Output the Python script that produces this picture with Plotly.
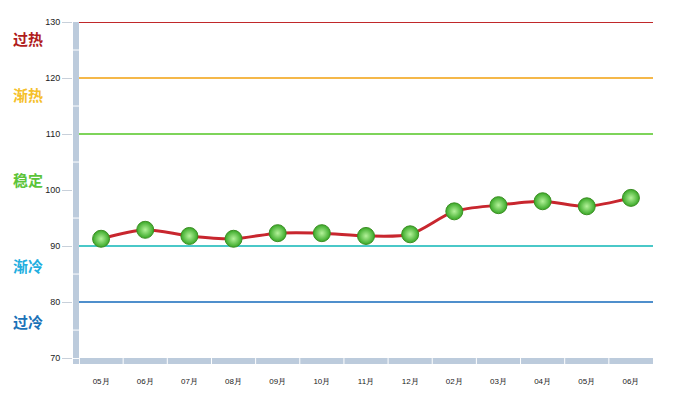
import plotly.graph_objects as go

months = ["05月", "06月", "07月", "08月", "09月", "10月", "11月", "12月",
          "02月", "03月", "04月", "05月", "06月"]
values = [91.3, 92.9, 91.8, 91.3, 92.3, 92.3, 91.8, 92.1, 96.2, 97.3, 98.0, 97.1, 98.6]

y_ticks = [70, 80, 90, 100, 110, 120, 130]
band_levels = [130, 120, 110, 90, 80]
band_colors = ["#c0282a", "#f5b84a", "#7ed45a", "#4ac8c8", "#4f8fcc"]
zone_names = ["过热", "渐热", "稳定", "渐冷", "过冷"]
zone_y = [127.0, 117.0, 101.8, 86.6, 76.6]
zone_colors = ["#b01c1c", "#f5c02a", "#5cc43a", "#22aee0", "#1a72b8"]

x_idx = list(range(len(months)))
n = len(months)

fig = go.Figure()

fig.add_trace(go.Scatter(
    x=x_idx, y=values, mode="lines",
    line=dict(color="#c8262e", width=3, shape="spline", smoothing=0.8),
    hoverinfo="skip", showlegend=False,
))
fig.add_trace(go.Scatter(
    x=x_idx, y=values, mode="markers",
    marker=dict(size=17, color="#38a826",
                gradient=dict(type="radial", color="#b4f29a"),
                line=dict(color="#3d8f25", width=1)),
    showlegend=False,
))

shapes = []
x0 = -0.5
x1 = n - 0.5
bar_w = 0.136
y_bot = 68.944

# horizontal colored level lines
for lvl, col in zip(band_levels, band_colors):
    shapes.append(dict(type="line", xref="x", yref="y", x0=x0, x1=x1, y0=lvl, y1=lvl,
                       line=dict(color=col, width=2), layer="below"))

# vertical axis bar
shapes.append(dict(type="rect", xref="x", yref="y", x0=x0 - bar_w, x1=x0,
                   y0=70, y1=130, fillcolor="#bccbdc", line=dict(width=0), layer="below"))
for b in [75, 85, 95, 105, 115, 125]:
    shapes.append(dict(type="line", xref="x", yref="y", x0=x0 - bar_w, x1=x0,
                       y0=b, y1=b, line=dict(color="white", width=1), layer="below"))
# corner square
shapes.append(dict(type="rect", xref="x", yref="y", x0=x0 - bar_w, x1=x0,
                   y0=y_bot, y1=69.85, fillcolor="#bccbdc", line=dict(width=0), layer="below"))
# horizontal axis bar
shapes.append(dict(type="rect", xref="x", yref="y", x0=x0 + 0.02, x1=x1,
                   y0=y_bot, y1=70, fillcolor="#bccbdc", line=dict(width=0), layer="below"))
for i in range(n - 1):
    shapes.append(dict(type="line", xref="x", yref="y", x0=i + 0.5, x1=i + 0.5,
                       y0=y_bot, y1=70, line=dict(color="white", width=1), layer="below"))

annotations = []
for name, yy, col in zip(zone_names, zone_y, zone_colors):
    annotations.append(dict(x=-0.107, xref="paper", y=yy, yref="y", text="<b>%s</b>" % name,
                            showarrow=False, xanchor="left", yanchor="middle",
                            font=dict(family="Noto Sans CJK SC", size=15, color=col)))

fig.update_layout(
    width=669, height=392,
    margin=dict(l=65, r=24, t=9, b=36),
    paper_bgcolor="white", plot_bgcolor="white",
    shapes=shapes, annotations=annotations,
    xaxis=dict(range=[x0 - bar_w, x1], tickmode="array", tickvals=x_idx, ticktext=months,
               showgrid=False, zeroline=False, showline=False, ticks="",
               ticklabelstandoff=11,
               tickfont=dict(family="Liberation Sans, Arial", size=8, color="#222")),
    yaxis=dict(range=[y_bot, 130], tickmode="array", tickvals=y_ticks,
               showgrid=False, zeroline=False, showline=False,
               ticks="outside", ticklen=10, tickcolor="#c8d0da", tickwidth=1,
               tickfont=dict(family="Liberation Sans, Arial", size=9, color="#222")),
)

fig.write_html("out.html")
